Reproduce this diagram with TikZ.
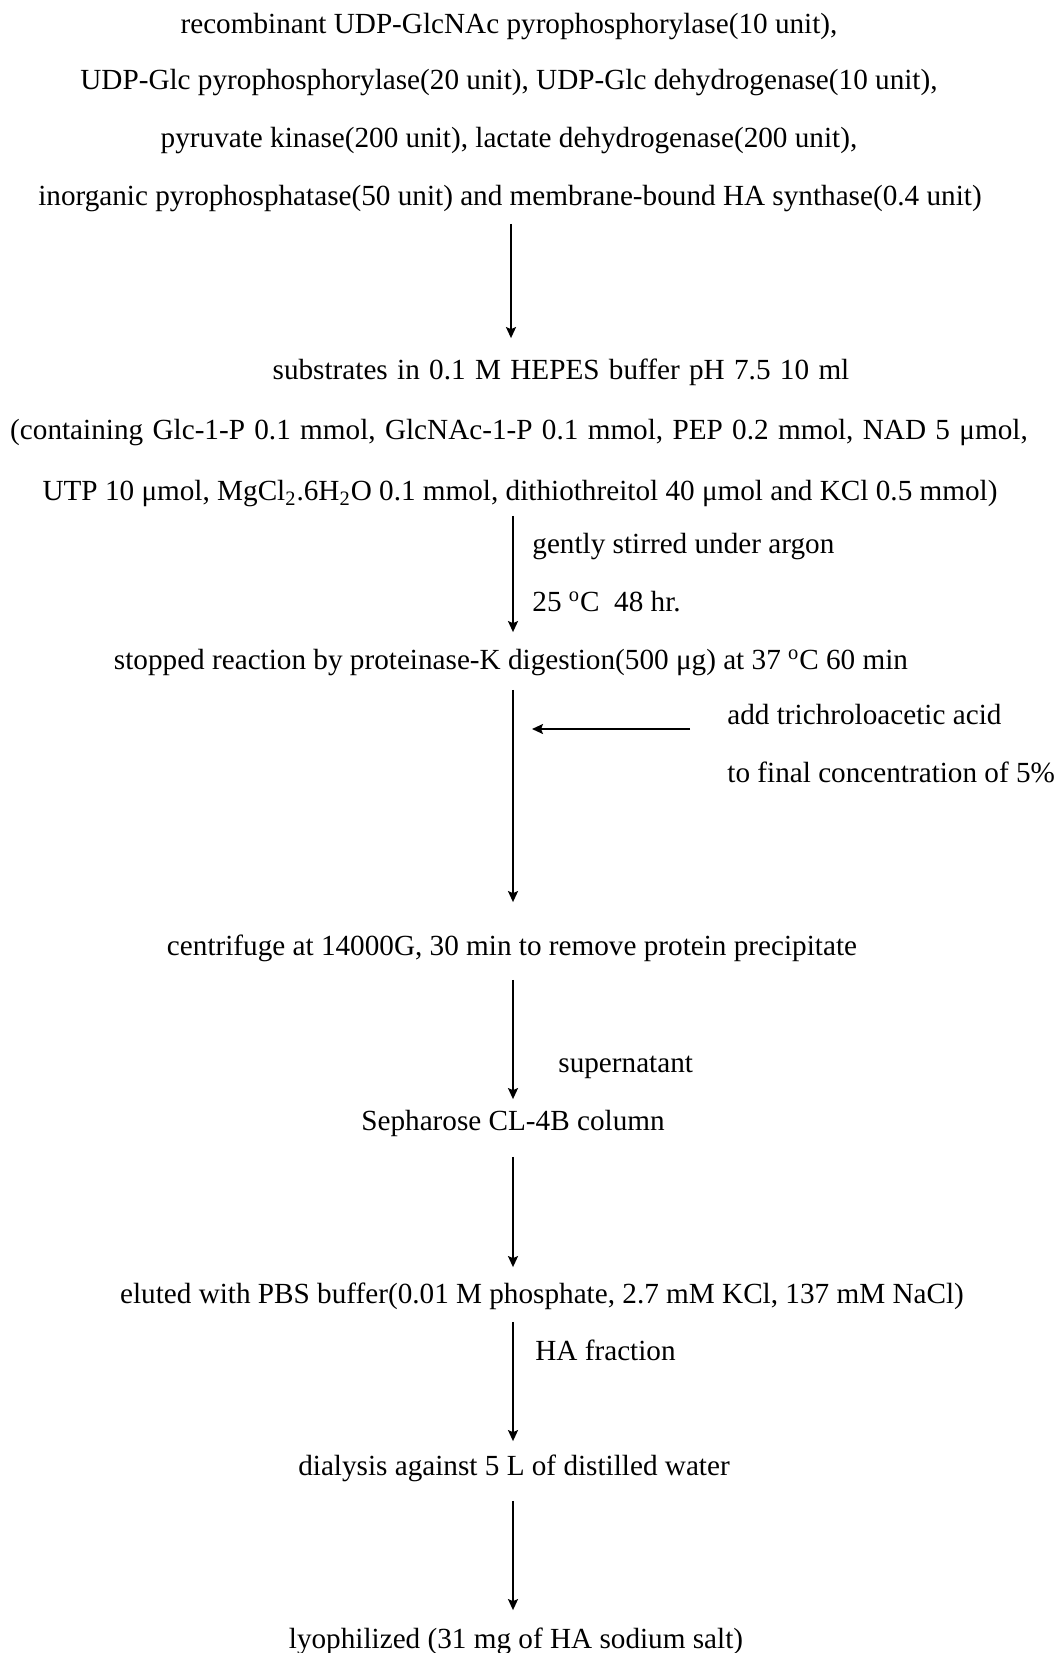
\documentclass[tikz,border=0pt]{standalone}
\usepackage{fontspec}
\setmainfont{Liberation Serif}
\usetikzlibrary{arrows.meta, positioning}

\newcommand{\um}{μ}
\newcommand{\degr}{\textsuperscript{o}}
\newcommand{\widesp}{\spaceskip=.32em plus .05em\relax}

\begin{document}
\begin{tikzpicture}[x=.5pt, y=-.5pt,
    every node/.style={inner sep=0pt, text height=9.9pt, text depth=3.1pt},
    txt/.style={font=\fontsize{14.6}{17}\selectfont},
    wide/.style={txt, execute at begin node=\widesp},
    note/.style={txt, anchor=west},
    flow/.style={-{Stealth[length=5.5pt, width=5pt, inset=1pt]}, line width=.9pt}]
  \useasboundingbox (0,-4) rectangle (1059,1649);
  \coordinate (axis) at (513,0);
  % enzymes
  \node[txt] (enz1) at (509,23) {recombinant UDP-GlcNAc pyrophosphorylase(10 unit),};
  \node[txt] (enz2) at (509,79) {UDP-Glc pyrophosphorylase(20 unit), UDP-Glc dehydrogenase(10 unit),};
  \node[txt] (enz3) at (509,137) {pyruvate kinase(200 unit), lactate dehydrogenase(200 unit),};
  \node[txt] (enz4) at (510,195) {inorganic pyrophosphatase(50 unit) and membrane-bound HA synthase(0.4 unit)};
  % substrates
  \node[wide] (sub1) at (561,369) {substrates in 0.1 M HEPES buffer pH 7.5 10 ml};
  \node[wide] (sub2) at (519,429) {(containing Glc-1-P 0.1 mmol, GlcNAc-1-P 0.1 mmol, PEP 0.2 mmol, NAD 5 \um mol,};
  \node[txt] (sub3) at (520,490) {UTP 10 \um mol, MgCl\textsubscript{2}.6H\textsubscript{2}O 0.1 mmol, dithiothreitol 40 \um mol and KCl 0.5 mmol)};
  \node[note] (stir) at (532,543) {gently stirred under argon};
  \node[note] (temp) at (532,601) {25 \degr C\ \ 48 hr.};
  \node[txt] (stop) at (511,659) {stopped reaction by proteinase-K digestion(500 \um g) at 37 \degr C 60 min};
  \node[note] (tca1) at (727,714) {add trichroloacetic acid};
  \node[note] (tca2) at (727,772) {to final concentration of 5\%};
  \node[txt] (cent) at (512,945) {centrifuge at 14000G, 30 min to remove protein precipitate};
  \node[note] (supn) at (558,1062) {supernatant};
  \node[txt] (col) at (513,1120) {Sepharose CL-4B column};
  \node[txt] (elu) at (542,1293) {eluted with PBS buffer(0.01 M phosphate, 2.7 mM KCl, 137 mM NaCl)};
  \node[note] (frac) at (535,1350) {HA fraction};
  \node[txt] (dial) at (514,1465) {dialysis against 5 L of distilled water};
  \node[txt] (lyo) at (516,1638) {lyophilized (31 mg of HA sodium salt)};
  \coordinate (tip) at (532,725);

  \draw[flow, shorten <=5.75pt, shorten >=10.75pt] ([xshift=-1pt]enz4.south -| axis) -- ([xshift=-1pt]sub1.north -| axis);
  \draw[flow, shorten <=4.25pt, shorten >=8.75pt] (sub3.south -| axis) -- (stop.north -| axis);
  \draw[flow, shorten <=6.75pt, shorten >=16.75pt] (stop.south -| axis) -- (cent.north -| axis);
  \draw[flow, shorten <=18.5pt] (tca1.west |- tip) -- (tip);
  \draw[flow, shorten <=8.75pt, shorten >=5.75pt] (cent.south -| axis) -- (col.north -| axis);
  \draw[flow, shorten <=9.75pt, shorten >=8.25pt] (col.south -| axis) -- (elu.north -| axis);
  \draw[flow, shorten <=5.75pt, shorten >=7.25pt] (elu.south -| axis) -- (dial.north -| axis);
  \draw[flow, shorten <=9.25pt, shorten >=9.25pt] (dial.south -| axis) -- (lyo.north -| axis);
\end{tikzpicture}
\end{document}
